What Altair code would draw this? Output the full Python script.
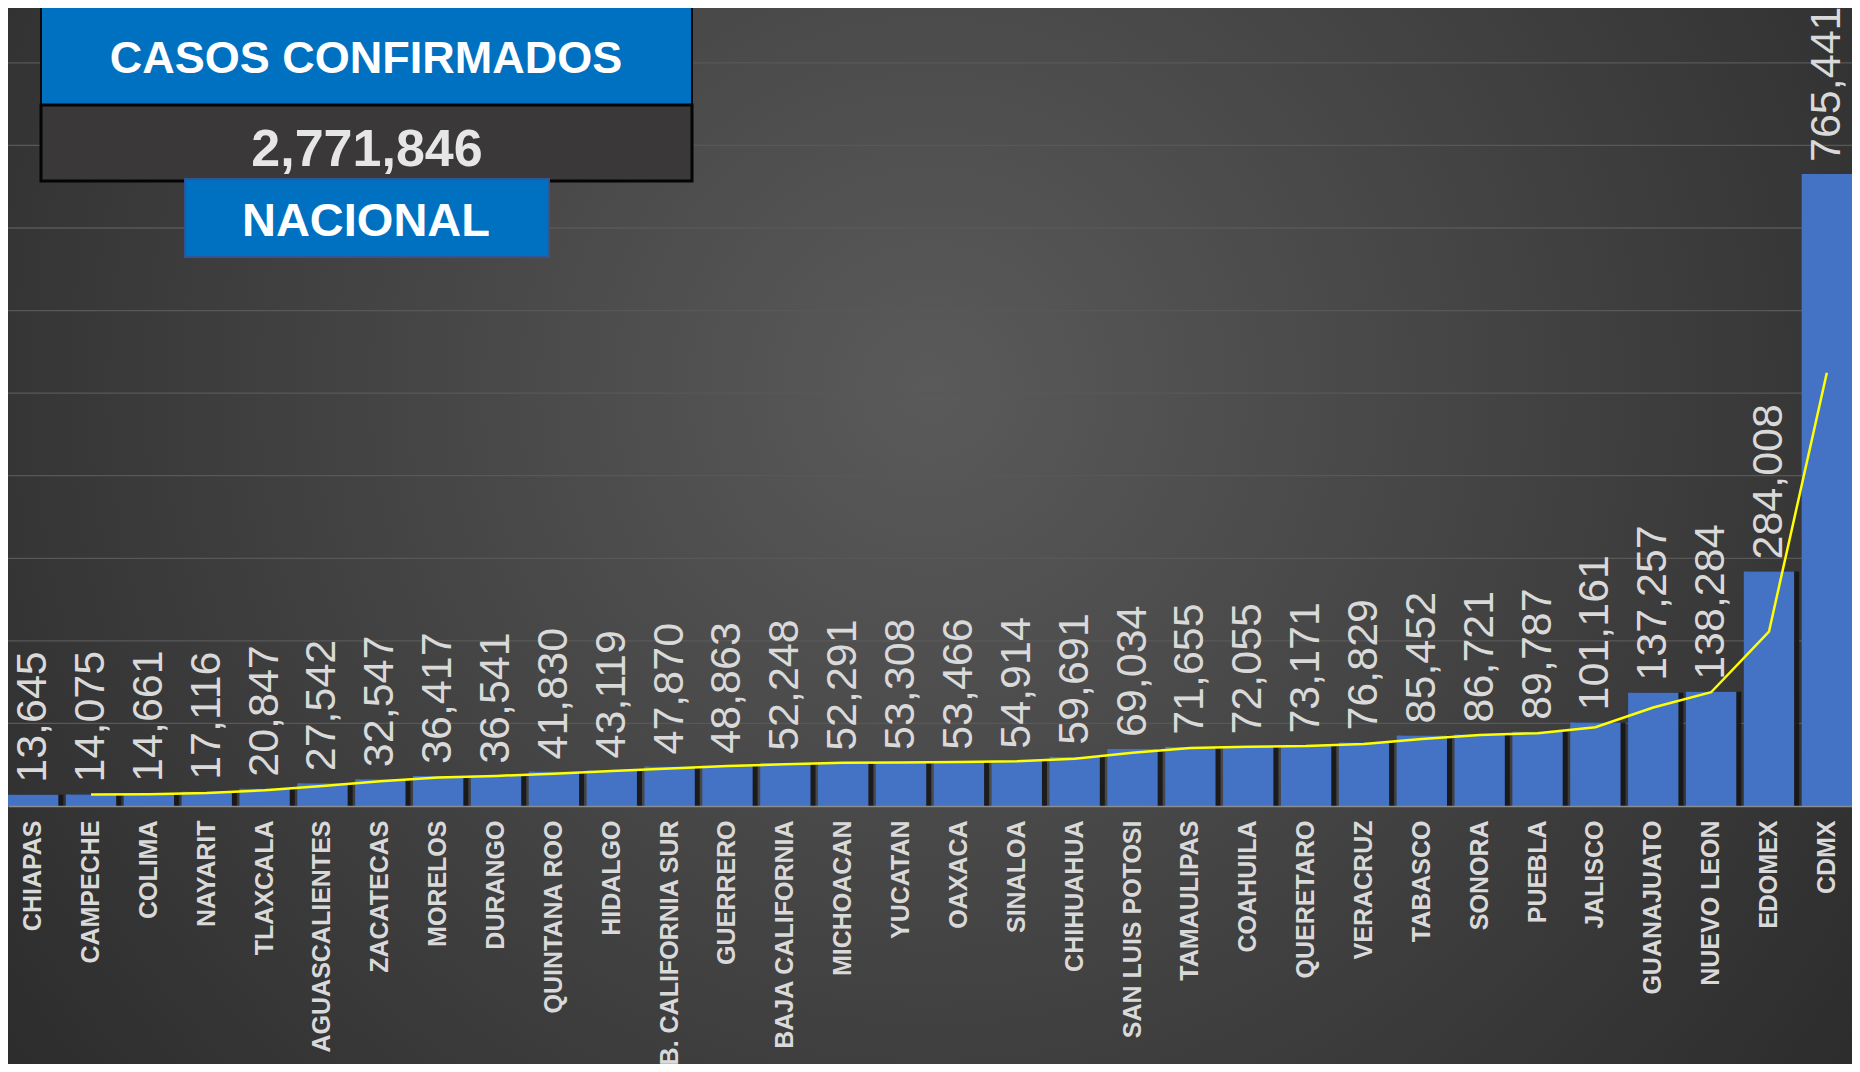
import altair as alt
import pandas as pd

# ---------------- data ----------------
STATES = ["CHIAPAS", "CAMPECHE", "COLIMA", "NAYARIT", "TLAXCALA", "AGUASCALIENTES",
          "ZACATECAS", "MORELOS", "DURANGO", "QUINTANA ROO", "HIDALGO",
          "B. CALIFORNIA SUR", "GUERRERO", "BAJA CALIFORNIA", "MICHOACAN", "YUCATAN",
          "OAXACA", "SINALOA", "CHIHUAHUA", "SAN LUIS POTOSI", "TAMAULIPAS", "COAHUILA",
          "QUERETARO", "VERACRUZ", "TABASCO", "SONORA", "PUEBLA", "JALISCO",
          "GUANAJUATO", "NUEVO LEON", "EDOMEX", "CDMX"]
CASES = [13645, 14075, 14661, 17116, 20847, 27542, 32547, 36417, 36541, 41830, 43119,
         47870, 48863, 52248, 52291, 53308, 53466, 54914, 59691, 69034, 71655, 72055,
         73171, 76829, 85452, 86721, 89787, 101161, 137257, 138284, 284008, 765441]
GRID_VALUES = [100000, 200000, 300000, 400000, 500000, 600000, 700000, 800000, 900000]
TITLE_TEXT = "CASOS CONFIRMADOS"
TOTAL_TEXT = "2,771,846"
SCOPE_TEXT = "NACIONAL"

# ---------------- layout ----------------
W = 1844
H = 798
BOTTOM = 258
Y_MAX = 966450
FONT = "Liberation Sans"

df = pd.DataFrame({"estado": STATES, "casos": CASES, "orden": list(range(len(STATES)))})

yscale = alt.Scale(domain=[0, Y_MAX], nice=False, zero=True)
xenc = alt.X(
    "estado:N", sort=STATES,
    scale=alt.Scale(paddingInner=0.13, paddingOuter=0),
    axis=alt.Axis(title=None, labelAngle=270, labelAlign="right", labelBaseline="middle",
                  labelFont=FONT, labelFontWeight="bold", labelFontSize=25,
                  labelColor="#d9d9d9", labelPadding=14, labelLimit=600,
                  labelOverlap=False, ticks=False, domainColor="#8c8c8c",
                  domainWidth=1.5, grid=False, zindex=1),
)

one = pd.DataFrame({"k": [0]})

bg = alt.Chart(one).mark_rect(
    color=alt.RadialGradient(
        gradient="radial", x1=0.5, y1=0.42, x2=0.5, y2=0.42, r1=0, r2=0.72,
        stops=[alt.GradientStop(offset=0, color="#5a5a5a"),
               alt.GradientStop(offset=1, color="#252525")],
    )
).encode(x=alt.value(0), x2=alt.value(W), y=alt.value(0), y2=alt.value(H + BOTTOM))

grid = alt.Chart(pd.DataFrame({"g": GRID_VALUES})).mark_rule(
    color="#585858", strokeWidth=1.3
).encode(y=alt.Y("g:Q", scale=yscale, axis=None))

base = alt.Chart(df).encode(x=xenc, y=alt.Y("casos:Q", scale=yscale, axis=None))

shadow = base.mark_bar(color="#141414", opacity=0.85, xOffset=5)
bars = base.mark_bar(color="#4472C4")

labels = base.mark_text(
    angle=270, align="left", baseline="middle", dx=12, font=FONT, fontSize=43,
    color="#d9d9d9"
).encode(text=alt.Text("casos:Q", format=","))

line = alt.Chart(df).transform_window(
    ma="mean(casos)", idx="row_number()", frame=[-1, 0], sort=[alt.SortField("orden")]
).transform_filter("datum.idx > 1").mark_line(
    color="#FFFF00", strokeWidth=2.5
).encode(x=xenc, y=alt.Y("ma:Q", scale=yscale, axis=None), order=alt.Order("orden:Q"))

# ---------------- title boxes ----------------
box_blue = alt.Chart(one).mark_rect(color="#0070C0", stroke="#0a0a0a", strokeWidth=2).encode(
    x=alt.value(33), x2=alt.value(684), y=alt.value(-10), y2=alt.value(97))
box_dark = alt.Chart(one).mark_rect(color="#3a3839", stroke="#050505", strokeWidth=3).encode(
    x=alt.value(33), x2=alt.value(684), y=alt.value(97), y2=alt.value(173))
box_scope = alt.Chart(one).mark_rect(color="#0070C0", stroke="#2F5597", strokeWidth=2).encode(
    x=alt.value(177), x2=alt.value(541), y=alt.value(171), y2=alt.value(249))

t_title = alt.Chart(one).mark_text(
    text=TITLE_TEXT, font=FONT, fontWeight="bold", fontSize=45, color="#ffffff",
    align="center", baseline="alphabetic"
).encode(x=alt.value(358), y=alt.value(65))
t_total = alt.Chart(one).mark_text(
    text=TOTAL_TEXT, font=FONT, fontWeight="bold", fontSize=52, color="#e6e6e6",
    align="center", baseline="alphabetic"
).encode(x=alt.value(359), y=alt.value(158))
t_scope = alt.Chart(one).mark_text(
    text=SCOPE_TEXT, font=FONT, fontWeight="bold", fontSize=47, color="#ffffff",
    align="center", baseline="alphabetic"
).encode(x=alt.value(358), y=alt.value(228))

chart = alt.layer(
    bg, grid, shadow, bars, line, labels,
    box_blue, box_dark, box_scope, t_title, t_total, t_scope
).properties(
    width=W, height=H,
    padding={"left": 0, "top": 0, "right": 0, "bottom": BOTTOM},
    autosize=alt.AutoSizeParams(type="none"),
    background="#2a2a2a",
).configure_view(stroke=None)

chart.save("out.html", embed_options={"renderer": "svg", "actions": False})
